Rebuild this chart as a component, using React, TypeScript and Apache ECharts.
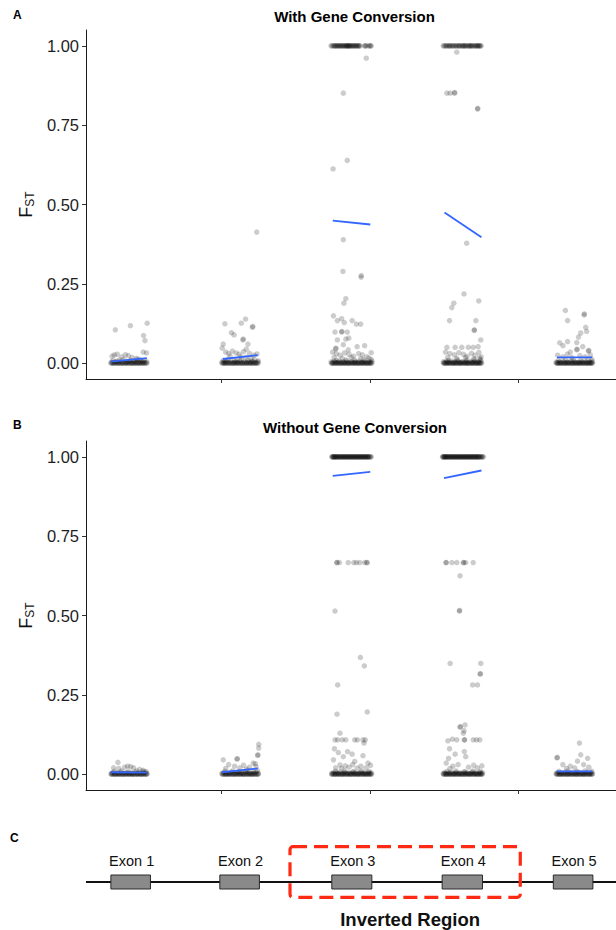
import React, { useEffect, useRef } from "react";
import * as echarts from "echarts";

const FONT = "'Liberation Sans', Arial, Helvetica, sans-serif";

// ---------- Tick labels ----------
const yTicks = [0, 0.25, 0.5, 0.75, 1];
const xTicks = [2, 4, 6];
const panelTitles = ["With Gene Conversion", "Without Gene Conversion"];
const panelLetters = ["A", "B", "C"];

// ---------- Panel A: with gene conversion ([position, FST]) ----------
const gcExon1 = [[0.574,0.105],[0.777,0.118],[1.003,0.126],[0.954,0.087],[0.973,0.071],[0.95,0.035],[0.994,0.032],[0.53,0.022],[0.56,0.026],[0.6,0.028],[0.66,0.02],[0.71,0.027],[0.75,0.024],[0.8,0.018],[0.86,0.015],[0.9,0.012]];
const gcBase1 = [[0.52,0.003],[0.55,0.001],[0.58,0.004],[0.61,0.002],[0.64,0.005],[0.67,0.001],[0.7,0.003],[0.73,0.002],[0.76,0.006],[0.79,0.001],[0.82,0.004],[0.85,0.002],[0.88,0.003],[0.91,0.001],[0.94,0.005],[0.97,0.002],[1.0,0.004],[0.54,0.008],[0.63,0.01],[0.69,0.012],[0.78,0.009],[0.87,0.011],[0.96,0.008],[0.59,0.006],[0.74,0.004],[0.83,0.007],[0.92,0.006]];
const gcZero1 = [0.515,0.532,0.541,0.566,0.571,0.598,0.604,0.627,0.633,0.655,0.668,0.679,0.702,0.716,0.728,0.744,0.763,0.771,0.792,0.803,0.818,0.836,0.842,0.867,0.874,0.893,0.902,0.923,0.938,0.951,0.962,0.984,0.997];
const gcExon2 = [[2.478,0.413],[2.049,0.124],[2.328,0.139],[2.27,0.126],[2.42,0.113],[2.425,0.116],[2.137,0.096],[2.173,0.089],[2.292,0.073],[2.297,0.076],[2.027,0.06],[2.36,0.06],[2.013,0.047],[2.337,0.044],[2.482,0.029],[2.06,0.035],[2.1,0.03],[2.15,0.038],[2.2,0.032],[2.24,0.028],[2.3,0.036],[2.38,0.031],[2.44,0.025],[2.12,0.022],[2.26,0.02],[2.33,0.018],[2.4,0.015]];
const gcBase2 = [[2.01,0.003],[2.04,0.001],[2.07,0.004],[2.1,0.002],[2.13,0.005],[2.16,0.001],[2.19,0.003],[2.22,0.002],[2.25,0.006],[2.28,0.001],[2.31,0.004],[2.34,0.002],[2.37,0.003],[2.4,0.001],[2.43,0.005],[2.46,0.002],[2.49,0.004],[2.03,0.009],[2.09,0.011],[2.18,0.008],[2.27,0.01],[2.36,0.009],[2.45,0.011],[2.5,0.007],[2.05,0.006],[2.21,0.007],[2.41,0.006]];
const gcZero2 = [2.012,2.026,2.038,2.057,2.064,2.083,2.095,2.112,2.124,2.141,2.153,2.168,2.185,2.193,2.214,2.227,2.236,2.258,2.263,2.284,2.296,2.311,2.327,2.339,2.352,2.371,2.384,2.396,2.415,2.427,2.438,2.456,2.468,2.483,2.497];
const gcTop3 = [3.48,3.49,3.51,3.53,3.54,3.55,3.56,3.58,3.6,3.61,3.62,3.63,3.65,3.66,3.68,3.69,3.7,3.71,3.73,3.75,3.77,3.79,3.8,3.82,3.85,3.87,3.93,3.95,3.98,4.0,4.02,3.57,3.64,3.67,3.72,3.74,3.76,3.78,3.81,3.83,3.86,3.94,4.01,3.59,3.69,3.72,3.52,3.84];
const gcExon3 = [[3.953,0.961],[3.644,0.851],[3.697,0.639],[3.506,0.612],[3.644,0.389],[3.639,0.289],[3.883,0.271],[3.886,0.276],[3.678,0.203],[3.652,0.189],[3.511,0.149],[3.564,0.134],[3.621,0.14],[3.657,0.128],[3.763,0.134],[3.82,0.123],[3.878,0.123],[3.532,0.098],[3.621,0.098],[3.625,0.1],[3.697,0.098],[3.564,0.073],[3.678,0.076],[3.718,0.079],[3.644,0.058],[3.83,0.052],[3.931,0.055],[3.541,0.045],[3.545,0.047],[3.71,0.042],[3.5,0.035],[3.55,0.03],[3.6,0.025],[3.66,0.032],[3.72,0.028],[3.78,0.022],[3.85,0.03],[3.9,0.026],[3.96,0.02],[4.02,0.033],[3.52,0.018],[3.63,0.015],[3.75,0.017],[3.88,0.014],[3.99,0.016]];
const gcBase3 = [[3.48,0.004],[3.5,0.001],[3.52,0.006],[3.54,0.002],[3.57,0.003],[3.59,0.007],[3.61,0.001],[3.64,0.004],[3.66,0.002],[3.69,0.006],[3.71,0.001],[3.74,0.003],[3.76,0.005],[3.79,0.002],[3.81,0.004],[3.84,0.001],[3.86,0.006],[3.89,0.002],[3.91,0.003],[3.94,0.005],[3.96,0.001],[3.99,0.004],[4.01,0.002],[4.03,0.006],[3.55,0.009],[3.68,0.01],[3.8,0.009],[3.92,0.01],[4.02,0.011]];
const gcZero3 = [3.483,3.497,3.508,3.524,3.536,3.549,3.561,3.574,3.587,3.596,3.612,3.624,3.638,3.649,3.663,3.674,3.688,3.699,3.713,3.726,3.737,3.752,3.764,3.776,3.788,3.801,3.814,3.826,3.839,3.852,3.863,3.877,3.888,3.902,3.914,3.927,3.938,3.952,3.964,3.977,3.989,4.003,4.016,4.027];
const gcTop4 = [4.99,5.0,5.02,5.04,5.06,5.07,5.09,5.11,5.13,5.15,5.17,5.19,5.2,5.22,5.24,5.26,5.28,5.3,5.32,5.33,5.35,5.37,5.39,5.41,5.43,5.45,5.47,5.49,5.5,5.03,5.08,5.12,5.16,5.21,5.25,5.29,5.34,5.38,5.42,5.46,5.48,5.27,5.36,5.44];
const gcExon4 = [[5.172,0.98],[5.039,0.851],[5.083,0.851],[5.14,0.851],[5.145,0.853],[5.451,0.801],[5.455,0.803],[5.305,0.378],[5.269,0.218],[5.132,0.189],[5.468,0.196],[5.105,0.175],[5.074,0.134],[5.429,0.134],[5.406,0.103],[5.41,0.105],[5.495,0.073],[5.039,0.05],[5.15,0.05],[5.239,0.05],[5.327,0.05],[5.393,0.05],[5.459,0.052],[5.02,0.035],[5.08,0.03],[5.14,0.026],[5.2,0.033],[5.26,0.028],[5.31,0.022],[5.37,0.031],[5.42,0.025],[5.47,0.034],[5.5,0.02],[5.05,0.018],[5.17,0.015],[5.29,0.017],[5.4,0.014],[5.48,0.016]];
const gcBase4 = [[4.99,0.004],[5.01,0.001],[5.03,0.006],[5.05,0.002],[5.07,0.003],[5.1,0.007],[5.12,0.001],[5.14,0.004],[5.16,0.002],[5.19,0.006],[5.21,0.001],[5.23,0.003],[5.25,0.005],[5.28,0.002],[5.3,0.004],[5.32,0.001],[5.35,0.006],[5.37,0.002],[5.39,0.003],[5.42,0.005],[5.44,0.001],[5.46,0.004],[5.48,0.002],[5.5,0.006],[5.06,0.009],[5.18,0.01],[5.3,0.009],[5.41,0.01],[5.49,0.011]];
const gcZero4 = [4.993,5.006,5.018,5.031,5.043,5.057,5.068,5.081,5.094,5.106,5.119,5.131,5.144,5.157,5.168,5.182,5.194,5.207,5.219,5.232,5.244,5.256,5.269,5.282,5.294,5.307,5.318,5.331,5.344,5.357,5.369,5.381,5.394,5.406,5.419,5.432,5.444,5.457,5.469,5.482,5.494,5.506];
const gcExon5 = [[6.634,0.166],[6.886,0.152],[6.89,0.155],[6.664,0.134],[6.908,0.113],[6.921,0.1],[6.841,0.095],[6.811,0.082],[6.664,0.068],[6.788,0.065],[6.558,0.064],[6.602,0.055],[6.868,0.052],[6.7,0.035],[6.788,0.042],[6.792,0.044],[6.944,0.038],[6.95,0.04],[6.53,0.025],[6.6,0.02],[6.66,0.028],[6.72,0.018],[6.83,0.024],[6.9,0.02],[6.97,0.026]];
const gcBase5 = [[6.51,0.003],[6.53,0.001],[6.56,0.004],[6.58,0.002],[6.61,0.005],[6.63,0.001],[6.66,0.003],[6.68,0.002],[6.71,0.006],[6.73,0.001],[6.76,0.004],[6.78,0.002],[6.81,0.003],[6.83,0.001],[6.86,0.005],[6.88,0.002],[6.91,0.004],[6.93,0.001],[6.96,0.003],[6.98,0.002],[7.0,0.005],[6.54,0.009],[6.64,0.01],[6.74,0.011],[6.84,0.009],[6.94,0.01],[6.99,0.012]];
const gcZero5 = [6.513,6.526,6.539,6.552,6.566,6.577,6.591,6.604,6.617,6.629,6.643,6.656,6.668,6.681,6.694,6.707,6.719,6.733,6.746,6.758,6.771,6.784,6.797,6.809,6.822,6.835,6.848,6.861,6.873,6.886,6.899,6.912,6.925,6.937,6.95,6.963,6.976,6.988,6.999];
// fitted lines (start, end) per exon
const gcFits = [
  [[0.512,0.005],[0.999,0.016]],
  [[2.023,0.013],[2.492,0.025]],
  [[3.502,0.449],[4.007,0.437]],
  [[5.007,0.475],[5.504,0.397]],
  [[6.522,0.018],[6.997,0.018]],
];

// ---------- Panel B: without gene conversion ----------
const ngExon1 = [[0.609,0.037],[0.55,0.02],[0.62,0.018],[0.7,0.022],[0.74,0.025],[0.78,0.024],[0.82,0.02],[0.9,0.015],[0.95,0.012]];
const ngBase1 = [[0.52,0.002],[0.54,0.005],[0.57,0.001],[0.6,0.004],[0.62,0.002],[0.65,0.006],[0.68,0.001],[0.71,0.003],[0.73,0.005],[0.76,0.002],[0.79,0.004],[0.81,0.001],[0.84,0.006],[0.87,0.002],[0.89,0.004],[0.92,0.001],[0.95,0.003],[0.97,0.006],[1.0,0.002],[0.56,0.009],[0.66,0.01],[0.75,0.008],[0.86,0.01],[0.94,0.009],[0.99,0.008]];
const ngZero1 = [0.517,0.529,0.543,0.558,0.569,0.586,0.597,0.611,0.626,0.638,0.652,0.664,0.677,0.691,0.706,0.718,0.731,0.746,0.759,0.772,0.786,0.799,0.812,0.826,0.839,0.853,0.866,0.879,0.893,0.907,0.921,0.934,0.948,0.961,0.975,0.988,0.998];
const ngExon2 = [[2.505,0.094],[2.505,0.082],[2.49,0.059],[2.495,0.061],[2.027,0.045],[2.213,0.047],[2.216,0.049],[2.43,0.035],[2.46,0.033],[2.1,0.03],[2.18,0.025],[2.3,0.028],[2.38,0.022],[2.25,0.02],[2.06,0.018],[2.34,0.016],[2.47,0.024]];
const ngBase2 = [[2.01,0.002],[2.03,0.005],[2.06,0.001],[2.09,0.004],[2.11,0.002],[2.14,0.006],[2.17,0.001],[2.2,0.003],[2.22,0.005],[2.25,0.002],[2.28,0.004],[2.3,0.001],[2.33,0.006],[2.36,0.002],[2.38,0.004],[2.41,0.001],[2.44,0.003],[2.47,0.006],[2.5,0.002],[2.05,0.009],[2.15,0.01],[2.24,0.008],[2.35,0.01],[2.43,0.009],[2.49,0.011]];
const ngZero2 = [2.014,2.027,2.041,2.053,2.068,2.079,2.093,2.106,2.119,2.133,2.146,2.158,2.172,2.186,2.198,2.211,2.224,2.238,2.251,2.263,2.277,2.291,2.303,2.316,2.329,2.343,2.356,2.369,2.382,2.395,2.408,2.422,2.435,2.448,2.461,2.474,2.487,2.499];
const ngTop3 = [3.49,3.495,3.5,3.51,3.515,3.52,3.53,3.535,3.54,3.55,3.555,3.56,3.57,3.58,3.585,3.59,3.6,3.61,3.615,3.62,3.63,3.64,3.645,3.65,3.66,3.67,3.675,3.68,3.69,3.7,3.705,3.71,3.72,3.73,3.735,3.74,3.75,3.76,3.765,3.77,3.78,3.79,3.795,3.8,3.81,3.82,3.825,3.83,3.84,3.85,3.855,3.86,3.87,3.88,3.885,3.89,3.9,3.91,3.915,3.92,3.93,3.94,3.945,3.95,3.96,3.97,3.975,3.98,3.99,4.0,4.01,4.02];
const ngExon3 = [[3.555,0.667],[3.56,0.667],[3.591,0.667],[3.71,0.667],[3.785,0.667],[3.821,0.667],[3.865,0.667],[3.931,0.667],[3.96,0.667],[3.967,0.667],[3.532,0.514],[3.874,0.368],[3.927,0.341],[3.568,0.281],[3.559,0.189],[3.967,0.196],[3.599,0.129],[3.532,0.108],[3.568,0.108],[3.63,0.108],[3.678,0.108],[3.798,0.108],[3.834,0.108],[3.909,0.108],[3.94,0.108],[3.923,0.098],[3.524,0.08],[3.577,0.068],[3.701,0.071],[3.644,0.055],[3.763,0.063],[3.909,0.058],[3.511,0.045],[3.798,0.04],[3.976,0.035],[3.599,0.029],[3.67,0.026],[3.54,0.02],[3.62,0.018],[3.72,0.022],[3.77,0.03],[3.83,0.019],[3.88,0.025],[3.95,0.02],[4.01,0.028]];
const ngBase3 = [[3.49,0.002],[3.51,0.005],[3.53,0.001],[3.56,0.004],[3.58,0.002],[3.6,0.006],[3.63,0.001],[3.65,0.003],[3.67,0.005],[3.7,0.002],[3.72,0.004],[3.74,0.001],[3.77,0.006],[3.79,0.002],[3.81,0.004],[3.84,0.001],[3.86,0.003],[3.88,0.006],[3.91,0.002],[3.93,0.004],[3.95,0.001],[3.98,0.005],[4.0,0.002],[4.02,0.004],[3.54,0.009],[3.66,0.01],[3.78,0.008],[3.89,0.01],[3.99,0.009]];
const ngZero3 = [3.486,3.499,3.512,3.526,3.538,3.551,3.564,3.577,3.589,3.602,3.616,3.628,3.641,3.654,3.667,3.679,3.692,3.706,3.718,3.731,3.744,3.757,3.769,3.782,3.796,3.808,3.821,3.834,3.847,3.859,3.872,3.886,3.898,3.911,3.924,3.937,3.949,3.962,3.976,3.988,4.001,4.014,4.026];
const ngTop4 = [4.98,4.985,4.99,5.0,5.005,5.01,5.02,5.025,5.03,5.04,5.045,5.05,5.06,5.07,5.075,5.08,5.09,5.1,5.105,5.11,5.12,5.13,5.135,5.14,5.15,5.16,5.165,5.17,5.18,5.19,5.195,5.2,5.21,5.22,5.225,5.23,5.24,5.25,5.255,5.26,5.27,5.28,5.285,5.29,5.3,5.31,5.315,5.32,5.33,5.34,5.345,5.35,5.36,5.37,5.375,5.38,5.39,5.4,5.405,5.41,5.42,5.43,5.435,5.44,5.45,5.46,5.465,5.47,5.48,5.49,5.5,5.51,5.52,5.53];
const ngExon4 = [[5.026,0.667],[5.03,0.667],[5.106,0.667],[5.172,0.667],[5.26,0.667],[5.265,0.667],[5.292,0.667],[5.393,0.667],[5.216,0.625],[5.207,0.514],[5.21,0.516],[5.083,0.349],[5.495,0.349],[5.486,0.315],[5.49,0.317],[5.385,0.281],[5.451,0.281],[5.283,0.155],[5.216,0.148],[5.22,0.15],[5.269,0.137],[5.26,0.129],[5.052,0.105],[5.113,0.11],[5.172,0.108],[5.273,0.108],[5.278,0.108],[5.393,0.108],[5.438,0.108],[5.482,0.108],[5.074,0.08],[5.273,0.071],[5.15,0.063],[5.061,0.05],[5.292,0.055],[5.03,0.035],[5.12,0.025],[5.19,0.03],[5.33,0.022],[5.4,0.028],[5.45,0.02],[5.51,0.026],[5.08,0.018]];
const ngBase4 = [[4.99,0.002],[5.01,0.005],[5.03,0.001],[5.06,0.004],[5.08,0.002],[5.1,0.006],[5.13,0.001],[5.15,0.003],[5.17,0.005],[5.2,0.002],[5.22,0.004],[5.24,0.001],[5.27,0.006],[5.29,0.002],[5.31,0.004],[5.34,0.001],[5.36,0.003],[5.38,0.006],[5.41,0.002],[5.43,0.004],[5.45,0.001],[5.48,0.005],[5.5,0.002],[5.52,0.004],[5.04,0.009],[5.16,0.01],[5.28,0.008],[5.39,0.01],[5.49,0.009]];
const ngZero4 = [4.992,5.004,5.017,5.029,5.042,5.055,5.067,5.079,5.092,5.104,5.117,5.129,5.142,5.155,5.167,5.179,5.192,5.204,5.217,5.229,5.242,5.255,5.267,5.279,5.292,5.304,5.317,5.329,5.342,5.355,5.367,5.379,5.392,5.404,5.417,5.429,5.442,5.455,5.467,5.479,5.492,5.504,5.517];
const ngExon5 = [[6.824,0.098],[6.522,0.051],[6.525,0.053],[6.841,0.061],[6.934,0.05],[6.797,0.041],[6.6,0.03],[6.7,0.025],[6.88,0.03],[6.95,0.022],[6.65,0.018],[6.76,0.02]];
const ngBase5 = [[6.51,0.002],[6.53,0.005],[6.56,0.001],[6.58,0.004],[6.61,0.002],[6.63,0.006],[6.66,0.001],[6.68,0.003],[6.71,0.005],[6.73,0.002],[6.76,0.004],[6.78,0.001],[6.81,0.006],[6.83,0.002],[6.86,0.004],[6.88,0.001],[6.91,0.003],[6.93,0.006],[6.96,0.002],[6.98,0.004],[7.0,0.001],[6.55,0.009],[6.67,0.01],[6.79,0.008],[6.9,0.01],[6.99,0.009]];
const ngZero5 = [6.514,6.527,6.541,6.553,6.567,6.579,6.592,6.606,6.618,6.631,6.645,6.657,6.671,6.683,6.696,6.709,6.722,6.735,6.748,6.761,6.774,6.787,6.799,6.812,6.826,6.838,6.851,6.864,6.877,6.891,6.903,6.916,6.929,6.942,6.955,6.968,6.981,6.994];
const ngFits = [
  [[0.512,0.006],[0.999,0.005]],
  [[2.013,0.006],[2.492,0.018]],
  [[3.502,0.94],[4.007,0.953]],
  [[5.0,0.933],[5.504,0.957]],
  [[6.522,0.009],[6.997,0.009]],
];

// ---------- Panel C: gene model (same position axis) ----------
const exonNames = ["Exon 1", "Exon 2", "Exon 3", "Exon 4", "Exon 5"];
const exonStart = [0.514, 1.981, 3.489, 4.975, 6.472];
const exonEnd = [1.047, 2.514, 4.028, 5.518, 7.005];
const invertedRegion = [2.926, 6.027];
const invertedLabel = "Inverted Region";

const X_MIN = 0.179;
const X_MAX = 7.316;
const backbone = [[X_MIN, 0], [X_MAX, 0]];

const atY = (xs: number[], y: number) => xs.map((x) => [x, y]);

const gcPoints = [
  ...atY(gcZero1, 0), ...gcBase1, ...gcExon1,
  ...atY(gcZero2, 0), ...gcBase2, ...gcExon2,
  ...atY(gcZero3, 0), ...gcBase3, ...gcExon3, ...atY(gcTop3, 1),
  ...atY(gcZero4, 0), ...gcBase4, ...gcExon4, ...atY(gcTop4, 1),
  ...atY(gcZero5, 0), ...gcBase5, ...gcExon5,
];
const ngPoints = [
  ...atY(ngZero1, 0), ...ngBase1, ...ngExon1,
  ...atY(ngZero2, 0), ...ngBase2, ...ngExon2,
  ...atY(ngZero3, 0), ...ngBase3, ...ngExon3, ...atY(ngTop3, 1),
  ...atY(ngZero4, 0), ...ngBase4, ...ngExon4, ...atY(ngTop4, 1),
  ...atY(ngZero5, 0), ...ngBase5, ...ngExon5,
];

function buildOption() {
  const grids = [
    { left: 86, top: 30, width: 537, height: 349 },
    { left: 86, top: 441, width: 537, height: 349 },
    { left: 86, top: 842, width: 537, height: 80 },
  ];
  const scatterX = (i: number) => ({
    gridIndex: i,
    type: "value",
    min: X_MIN,
    max: X_MAX,
    axisLine: { show: true, onZero: false, lineStyle: { color: "#1a1a1a", width: 1 } },
    axisTick: { show: true, customValues: xTicks, length: 4, lineStyle: { color: "#333", width: 1 } },
    axisLabel: { show: false },
    splitLine: { show: false },
  });
  const scatterY = (i: number) => ({
    gridIndex: i,
    type: "value",
    min: -0.05,
    max: 1.05,
    name: "{f|F}{s|ST}",
    nameLocation: "middle",
    nameGap: 49,
    nameRotate: 90,
    nameTextStyle: {
      rich: {
        f: { fontSize: 18, lineHeight: 20, fontFamily: FONT, color: "#111" },
        s: { fontSize: 12, lineHeight: 9, verticalAlign: "bottom", fontFamily: FONT, color: "#111" },
      },
    },
    axisLine: { show: true, onZero: false, lineStyle: { color: "#1a1a1a", width: 1 } },
    axisTick: { show: true, customValues: yTicks, length: 4, lineStyle: { color: "#333", width: 1 } },
    axisLabel: {
      show: true,
      customValues: yTicks,
      formatter: (v: number) => v.toFixed(2),
      fontSize: 16.5,
      color: "#1e1e1e",
      fontFamily: FONT,
      margin: 7,
    },
    splitLine: { show: false },
  });

  const scatter = (i: number, data: number[][]) => ({
    type: "scatter",
    xAxisIndex: i,
    yAxisIndex: i,
    data,
    symbol: "circle",
    symbolSize: 5.5,
    itemStyle: { color: "#000", opacity: 0.2 },
    silent: true,
    z: 2,
  });
  const fits = (i: number, segs: number[][][]) =>
    segs.map((seg) => ({
      type: "line",
      xAxisIndex: i,
      yAxisIndex: i,
      data: seg,
      symbol: "none",
      lineStyle: { color: "#3366FF", width: 1.8 },
      silent: true,
      z: 3,
    }));

  const titleText = (text: string, x: number, y: number, size: number) => ({
    type: "text",
    x,
    y,
    style: {
      text,
      fontSize: size,
      fontWeight: "bold",
      fontFamily: FONT,
      fill: "#000",
      align: "center",
      verticalAlign: "middle",
    },
  });
  const letter = (text: string, x: number, y: number) => ({
    type: "text",
    x,
    y,
    style: {
      text,
      fontSize: 12,
      fontWeight: "bold",
      fontFamily: FONT,
      fill: "#000",
      align: "left",
      verticalAlign: "middle",
    },
  });

  return {
    animation: false,
    backgroundColor: "#fff",
    grid: grids,
    xAxis: [
      scatterX(0),
      scatterX(1),
      { gridIndex: 2, type: "value", min: X_MIN, max: X_MAX, show: false },
    ],
    yAxis: [
      scatterY(0),
      scatterY(1),
      { gridIndex: 2, type: "value", min: -1, max: 1, show: false },
    ],
    graphic: [
      titleText(panelTitles[0], 354.5, 16, 15),
      titleText(panelTitles[1], 355, 427, 15),
      letter(panelLetters[0], 13, 15),
      letter(panelLetters[1], 13, 425),
      letter(panelLetters[2], 10, 838),
    ],
    series: [
      scatter(0, gcPoints),
      ...fits(0, gcFits),
      scatter(1, ngPoints),
      ...fits(1, ngFits),
      {
        type: "line",
        xAxisIndex: 2,
        yAxisIndex: 2,
        data: backbone,
        symbol: "none",
        lineStyle: { color: "#111", width: 2.2 },
        silent: true,
        z: 1,
      },
      {
        type: "custom",
        xAxisIndex: 2,
        yAxisIndex: 2,
        clip: false,
        silent: true,
        z: 3,
        data: exonStart.map((s, i) => [s, exonEnd[i], i]),
        renderItem: (params: any, api: any) => {
          const a = api.coord([api.value(0), 0]);
          const b = api.coord([api.value(1), 0]);
          const idx = api.value(2);
          return {
            type: "group",
            children: [
              {
                type: "rect",
                shape: { x: a[0], y: a[1] - 7, width: b[0] - a[0], height: 14 },
                style: { fill: "#8a8a8a", stroke: "#2a2a2a", lineWidth: 1 },
              },
              {
                type: "text",
                style: {
                  text: exonNames[idx],
                  x: (a[0] + b[0]) / 2 + 1,
                  y: a[1] - 21.5,
                  align: "center",
                  verticalAlign: "middle",
                  fontSize: 14.5,
                  fontFamily: FONT,
                  fill: "#111",
                },
              },
            ],
          };
        },
      },
      {
        type: "custom",
        xAxisIndex: 2,
        yAxisIndex: 2,
        clip: false,
        silent: true,
        z: 4,
        data: [invertedRegion],
        renderItem: (params: any, api: any) => {
          const a = api.coord([api.value(0), 0]);
          const b = api.coord([api.value(1), 0]);
          return {
            type: "group",
            children: [
              {
                type: "rect",
                shape: { x: a[0], y: a[1] - 35.3, width: b[0] - a[0], height: 50.6, r: 3 },
                style: { fill: "none", stroke: "#ff2a14", lineWidth: 3.2, lineDash: [14, 7] },
              },
              {
                type: "text",
                style: {
                  text: invertedLabel,
                  x: (a[0] + b[0]) / 2 + 5,
                  y: a[1] + 37,
                  align: "center",
                  verticalAlign: "middle",
                  fontSize: 18.5,
                  fontWeight: "bold",
                  fontFamily: FONT,
                  fill: "#111",
                },
              },
            ],
          };
        },
      },
    ],
  };
}

export default function App() {
  const ref = useRef<HTMLDivElement>(null);
  useEffect(() => {
    document.body.style.margin = "0";
    if (!ref.current) return;
    const chart = echarts.init(ref.current, undefined, { renderer: "svg" });
    chart.setOption(buildOption() as any);
    return () => chart.dispose();
  }, []);
  return (
    <div
      ref={ref}
      style={{ position: "absolute", left: 0, top: 0, width: 616, height: 930, background: "#fff" }}
    />
  );
}
